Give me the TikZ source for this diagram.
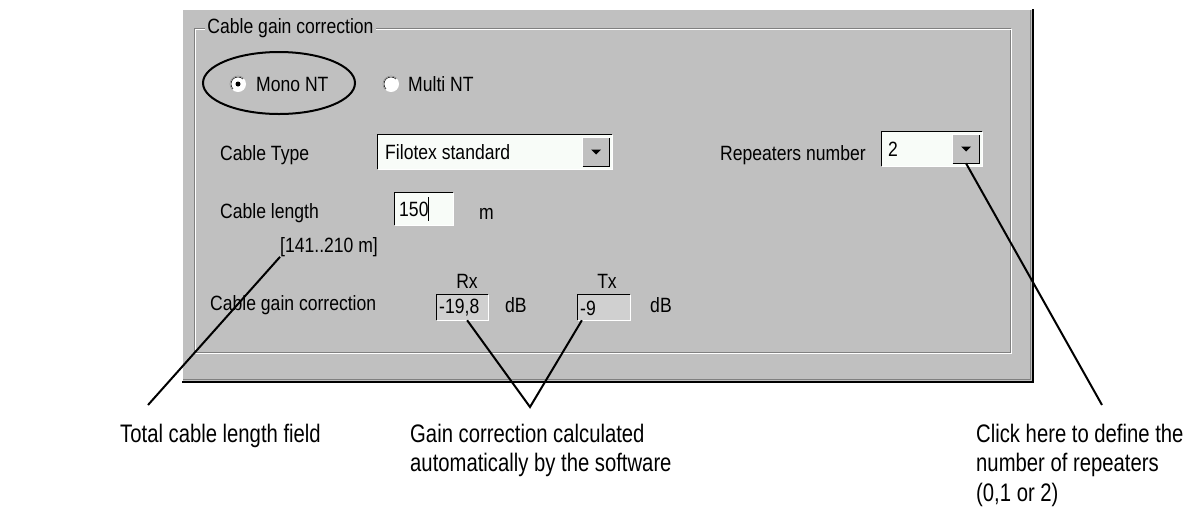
\documentclass[tikz,border=0pt]{standalone}
\usepackage{fontspec}
\setmainfont{Liberation Sans}

\definecolor{panel}{HTML}{C0C0C0}
\definecolor{shadow}{HTML}{808080}
\definecolor{fieldbg}{HTML}{F8FCF8}
\definecolor{readonly}{HTML}{D0D0D0}

\tikzset{
  ui/.style={font=\fontsize{15.5}{17}\selectfont, xscale=0.85, inner sep=0pt},
  caption/.style={font=\fontsize{19}{22}\selectfont, xscale=0.8, inner sep=0pt, align=left},
  field/.style={fill=fieldbg, inner sep=0pt},
  rofield/.style={fill=readonly, inner sep=0pt},
  dropbtn/.style={fill=panel, inner sep=0pt},
  leader/.style={line width=1.5pt},
}

\begin{document}
\begin{tikzpicture}[x=0.75pt,y=-0.75pt]

        \useasboundingbox[fill=white] (0,0) rectangle (1192,508);

        \fill[panel] (182,9) rectangle (1034,383);
        \draw[white] (182.5,382) |- (1033,9.5);
        \draw[shadow] (183,379) -| (1030,10);
        \draw[black, line width=1.5pt] (182,382) -| (1033,9);

        \draw[shadow] (194,28) rectangle (1010,352);
        \draw[white] (195,29) rectangle (1011,353);
        \node[ui, fill=panel, inner xsep=2pt, inner ysep=1pt, anchor=west] (title) at (205,28) {Cable gain correction};

        \draw[line width=1.5pt] (279,83) ellipse (76 and 31);

        \fill[white] (238,84) circle (8);
        \draw[shadow] (238,84) ++(135:8) arc (135:315:8);
        \draw[black] (238,84) ++(135:7) arc (135:315:7);
        \fill[black] (238,84) circle (2.5);
        \node[ui, anchor=west] (mono) at (256,84) {Mono NT};

        \fill[white] (391,84) circle (8);
        \draw[shadow] (391,84) ++(135:8) arc (135:315:8);
        \draw[black] (391,84) ++(135:7) arc (135:315:7);
        \node[ui, anchor=west] (multi) at (408,84) {Multi NT};

        \node[ui, anchor=west] (typelbl) at (220,155) {Cable Type};
        \node[field, minimum width=175.5pt, minimum height=25.5pt] (typecombo) at (495,152) {};
        \draw[black] (typecombo.south west) |- (typecombo.north east);
        \draw[white] (typecombo.south west) -| (typecombo.north east);
        \node[ui, anchor=west] (typeval) at (385,152) {Filotex standard};
        \node[dropbtn, minimum width=19.5pt, minimum height=21pt] (typebtn) at (596,152) {};
        \draw[white] (typebtn.south west) |- (typebtn.north east);
        \draw[black] (typebtn.south west) -| (typebtn.north east);
        \fill (typebtn.center) ++(-5,-2.5) -- ++(10,0) -- ++(-5,5) -- cycle;

        \node[ui, anchor=west] (replbl) at (720,155) {Repeaters number};
        \node[field, minimum width=75pt, minimum height=25.5pt] (repcombo) at (932,149) {};
        \draw[black] (repcombo.south west) |- (repcombo.north east);
        \draw[white] (repcombo.south west) -| (repcombo.north east);
        \node[ui, anchor=west] (repval) at (888,149) {2};
        \node[dropbtn, minimum width=19.5pt, minimum height=21pt] (repbtn) at (966,149) {};
        \draw[white] (repbtn.south west) |- (repbtn.north east);
        \draw[black] (repbtn.south west) -| (repbtn.north east);
        \fill (repbtn.center) ++(-5,-2.5) -- ++(10,0) -- ++(-5,5) -- cycle;

        \node[ui, anchor=west] (lenlbl) at (220,213) {Cable length};
        \node[field, minimum width=43.5pt, minimum height=24pt] (lenbox) at (424,209) {};
        \draw[black] (lenbox.south west) |- (lenbox.north east);
        \draw[white] (lenbox.south west) -| (lenbox.north east);
        \node[ui, anchor=west] (lenval) at (399,209) {150};
        \draw (428,197) -- (428,221);
        \node[ui, anchor=west] (lenunit) at (479,214) {m};
        \node[ui, anchor=west] (lenrange) at (280,247) {[141..210 m]};

        \node[ui] (rxlbl) at (467,281) {Rx};
        \node[ui] (txlbl) at (607,281) {Tx};
        \node[ui, anchor=west] (gainlbl) at (210,305) {Cable gain correction};
        \node[rofield, minimum width=38.25pt, minimum height=18.75pt] (rxbox) at (462.5,307.5) {};
        \draw[black] (rxbox.south west) |- (rxbox.north east);
        \draw[white] (rxbox.south west) -| (rxbox.north east);
        \node[ui, anchor=west] (rxval) at (439,308) {-19,8};
        \node[ui, anchor=west] (rxunit) at (505,305) {dB};
        \node[rofield, minimum width=39pt, minimum height=18.75pt] (txbox) at (604,307.5) {};
        \draw[black] (txbox.south west) |- (txbox.north east);
        \draw[white] (txbox.south west) -| (txbox.north east);
        \node[ui, anchor=west] (txval) at (580,308) {-9};
        \node[ui, anchor=west] (txunit) at (650,305) {dB};

        \node[caption, anchor=west] (caplength) at (120,436) {Total cable length field};
        \node[caption, anchor=north west] (capgain) at (410,424) {Gain correction calculated\\automatically by the software};
        \node[caption, anchor=north west] (caprep) at (976,424) {Click here to define the\\number of repeaters\\(0,1 or 2)};

        \coordinate (tiplength) at (148,405);
        \coordinate (tipgain) at (530,407);
        \coordinate (tiprep) at (1102,405);

        \draw[leader] (lenrange.south west) -- (tiplength);
        \draw[leader] (rxbox.-70) -- (tipgain) -- (txbox.-150);
        \draw[leader] (repbtn.south) -- (tiprep);

      \end{tikzpicture}
\end{document}
